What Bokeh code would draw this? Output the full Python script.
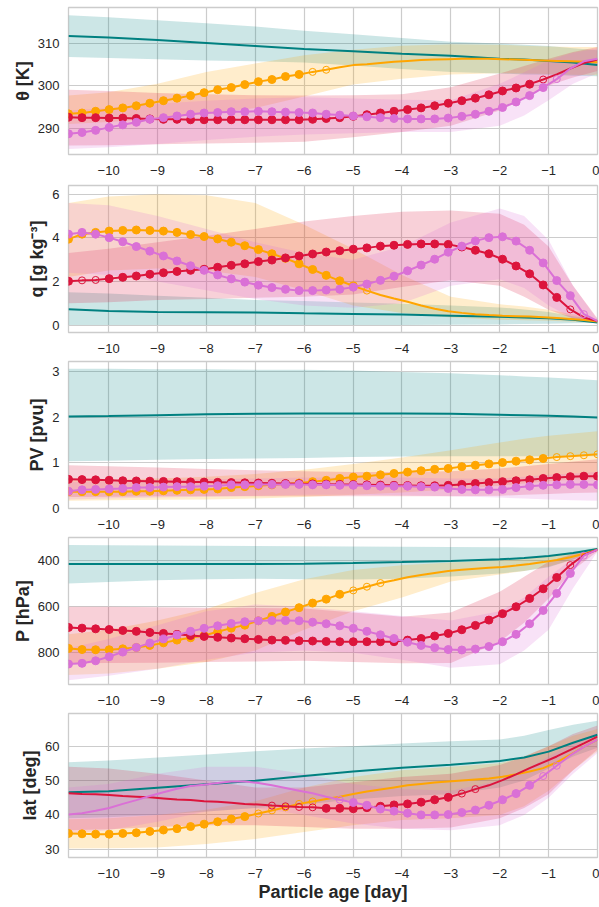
from bokeh.plotting import figure
from bokeh.models import Range1d, FixedTicker, CustomJSTickFormatter
from bokeh.layouts import column
from bokeh.embed import file_html
from bokeh.resources import INLINE

# ---------------- data ----------------
AGE = [-10.82, -10.543, -10.265, -9.988, -9.71, -9.433, -9.156, -8.878, -8.601, -8.323,
       -8.046, -7.769, -7.491, -7.214, -6.936, -6.659, -6.382, -6.104, -5.827, -5.549,
       -5.272, -4.995, -4.717, -4.44, -4.162, -3.885, -3.608, -3.33, -3.053, -2.775,
       -2.498, -2.221, -1.943, -1.666, -1.388, -1.111, -0.834, -0.556, -0.279, 0.0]
BAND_AGE = [-10.82, -10, -9, -8, -7, -6, -5, -4, -3, -2, -1.5, -1, -0.5, 0]
DAY_TICKS = [-10, -9, -8, -7, -6, -5, -4, -3, -2, -1, 0]

# theta [K]
TH_TEAL = [311.8, 311.4, 310.8, 310.1, 309.4, 308.7, 308.2, 307.6, 307.1, 306.4, 306.2, 305.9, 305.5, 304.9]
TH_ORANGE = [293.4, 293.6, 294.0, 294.4, 294.8, 295.3, 295.9, 296.5, 297.1, 297.7, 298.4, 299.1, 299.6, 300.3,
             301.0, 301.5, 302.2, 302.7, 303.3, 303.8, 304.4, 304.9, 305.1, 305.4, 305.7, 305.9, 306.1, 306.2,
             306.3, 306.4, 306.4, 306.4, 306.3, 306.2, 306.1, 306.0, 305.9, 305.8, 305.7, 305.6]
TH_RED = [292.6, 292.5, 292.5, 292.4, 292.4, 292.3, 292.2, 292.1, 292.1, 292.0, 292.0, 292.0, 292.0, 292.0,
          292.0, 292.0, 292.0, 292.0, 292.1, 292.3, 292.5, 292.8, 293.2, 293.6, 294.0, 294.4, 294.8, 295.3,
          295.9, 296.5, 297.1, 297.9, 298.8, 299.5, 300.4, 301.5, 302.7, 304.1, 305.4, 306.2]
TH_ORCHID = [288.7, 289.0, 289.5, 290.2, 290.8, 291.4, 292.1, 292.5, 292.9, 293.3, 293.6, 293.7, 293.9, 293.9,
             294.0, 293.9, 293.8, 293.7, 293.6, 293.3, 293.1, 292.9, 292.7, 292.5, 292.3, 292.2, 292.2, 292.2,
             292.4, 292.8, 293.3, 294.0, 294.9, 296.2, 297.7, 299.6, 301.6, 304.1, 305.8, 306.4]
TH_TEAL_LO = [306.8, 306.6, 306.3, 306.0, 305.8, 305.5, 304.8, 304.0, 303.3, 302.9, 302.7, 302.6, 302.4, 302.3]
TH_TEAL_HI = [316.7, 316.2, 315.5, 314.8, 314.0, 313.0, 312.2, 311.3, 310.4, 310.0, 309.7, 309.4, 308.9, 308.4]
TH_ORANGE_LO = [291.0, 291.5, 292.3, 293.3, 294.8, 297.5, 300.3, 301.7, 302.7, 303.0, 302.9, 302.8, 302.6, 302.5]
TH_ORANGE_HI = [297.7, 298.5, 300.5, 303.3, 305.3, 307.2, 308.5, 309.5, 309.8, 309.7, 309.5, 309.3, 309.2, 309.2]
TH_RED_LO = [285.9, 286.0, 286.2, 286.4, 286.6, 286.8, 287.9, 289.1, 290.6, 294.2, 297.0, 300.1, 302.0, 303.5]
TH_RED_HI = [299.1, 298.8, 298.3, 298.0, 297.8, 297.7, 297.8, 298.0, 299.7, 302.9, 304.7, 306.4, 308.0, 309.2]
TH_ORCHID_LO = [285.1, 285.5, 286.3, 287.2, 288.0, 288.5, 288.8, 289.1, 289.1, 290.6, 293.0, 296.6, 300.5, 303.0]
TH_ORCHID_HI = [294.2, 294.8, 295.8, 296.5, 297.0, 297.3, 297.0, 296.7, 296.6, 300.5, 303.2, 306.0, 307.8, 308.8]

# q [g kg-3]
Q_TEAL = [0.73, 0.65, 0.60, 0.59, 0.58, 0.54, 0.51, 0.48, 0.43, 0.38, 0.35, 0.31, 0.24, 0.12]
Q_ORANGE = [3.94, 4.17, 4.25, 4.31, 4.34, 4.36, 4.34, 4.31, 4.25, 4.15, 4.06, 3.95, 3.80, 3.64,
            3.46, 3.27, 3.06, 2.81, 2.55, 2.28, 2.03, 1.80, 1.58, 1.38, 1.22, 1.07, 0.90, 0.75,
            0.63, 0.56, 0.50, 0.46, 0.43, 0.41, 0.39, 0.36, 0.33, 0.28, 0.23, 0.16]
Q_RED = [2.01, 2.05, 2.07, 2.13, 2.19, 2.25, 2.33, 2.40, 2.46, 2.51, 2.56, 2.65, 2.74, 2.81,
         2.91, 2.98, 3.08, 3.17, 3.26, 3.35, 3.41, 3.48, 3.54, 3.62, 3.66, 3.70, 3.72, 3.72,
         3.70, 3.58, 3.43, 3.27, 3.02, 2.71, 2.35, 1.84, 1.27, 0.72, 0.35, 0.18]
Q_ORCHID = [4.17, 4.25, 4.17, 4.01, 3.82, 3.60, 3.39, 3.17, 2.94, 2.72, 2.51, 2.30, 2.12, 1.97,
            1.83, 1.72, 1.64, 1.58, 1.58, 1.61, 1.64, 1.74, 1.88, 2.05, 2.24, 2.49, 2.75, 3.02,
            3.34, 3.62, 3.86, 4.01, 4.05, 3.85, 3.43, 2.85, 2.04, 1.35, 0.50, 0.18]
Q_TEAL_LO = [0.00, 0.00, 0.00, 0.00, 0.00, 0.00, 0.00, 0.00, 0.02, 0.03, 0.05, 0.06, 0.08, 0.10]
Q_TEAL_HI = [1.50, 1.45, 1.35, 1.25, 1.15, 1.10, 1.04, 0.98, 0.90, 0.81, 0.72, 0.60, 0.40, 0.25]
Q_ORANGE_LO = [2.20, 2.50, 2.60, 2.50, 2.20, 1.60, 0.90, 0.55, 0.35, 0.25, 0.22, 0.20, 0.15, 0.10]
Q_ORANGE_HI = [5.60, 5.90, 6.00, 5.95, 5.60, 4.60, 3.50, 2.30, 1.30, 0.95, 0.85, 0.70, 0.50, 0.25]
Q_RED_LO = [1.00, 1.05, 1.15, 1.20, 1.25, 1.30, 1.40, 1.75, 2.05, 1.80, 1.30, 0.70, 0.30, 0.15]
Q_RED_HI = [3.30, 3.50, 3.80, 4.10, 4.40, 4.75, 5.00, 5.20, 5.25, 5.10, 4.60, 3.60, 1.80, 0.30]
Q_ORCHID_LO = [2.40, 2.30, 2.00, 1.60, 1.20, 0.90, 0.80, 1.00, 1.80, 2.10, 1.70, 0.90, 0.30, 0.15]
Q_ORCHID_HI = [5.60, 5.50, 5.00, 4.40, 3.80, 3.30, 3.00, 3.60, 4.70, 5.35, 5.00, 3.90, 1.80, 0.25]

# PV [pvu]
PV_TEAL = [2.02, 2.03, 2.05, 2.07, 2.08, 2.09, 2.09, 2.09, 2.08, 2.06, 2.05, 2.04, 2.02, 2.00]
PV_ORANGE = [0.37, 0.37, 0.37, 0.37, 0.37, 0.38, 0.38, 0.39, 0.40, 0.41, 0.42, 0.43, 0.46, 0.48,
             0.50, 0.52, 0.54, 0.56, 0.59, 0.62, 0.66, 0.69, 0.71, 0.74, 0.77, 0.80, 0.83, 0.86,
             0.88, 0.92, 0.95, 0.98, 1.01, 1.04, 1.07, 1.10, 1.13, 1.15, 1.17, 1.19]
PV_RED = [0.64, 0.635, 0.63, 0.62, 0.61, 0.605, 0.60, 0.595, 0.59, 0.585, 0.58, 0.575, 0.57, 0.565,
          0.56, 0.555, 0.55, 0.545, 0.54, 0.535, 0.53, 0.525, 0.52, 0.515, 0.51, 0.505, 0.50, 0.50,
          0.51, 0.53, 0.55, 0.57, 0.59, 0.61, 0.63, 0.66, 0.68, 0.70, 0.71, 0.71]
PV_ORCHID = [0.38, 0.41, 0.42, 0.43, 0.44, 0.46, 0.46, 0.47, 0.48, 0.48, 0.49, 0.50, 0.52, 0.52,
             0.53, 0.53, 0.53, 0.53, 0.52, 0.52, 0.51, 0.51, 0.50, 0.49, 0.49, 0.49, 0.48, 0.47,
             0.44, 0.42, 0.41, 0.41, 0.42, 0.46, 0.49, 0.51, 0.52, 0.53, 0.53, 0.52]
PV_TEAL_LO = [1.04, 1.05, 1.07, 1.09, 1.10, 1.11, 1.13, 1.14, 1.15, 1.15, 1.15, 1.15, 1.15, 1.15]
PV_TEAL_HI = [3.07, 3.07, 3.06, 3.06, 3.05, 3.05, 3.03, 3.00, 2.97, 2.93, 2.90, 2.88, 2.85, 2.82]
PV_ORANGE_LO = [0.17, 0.18, 0.19, 0.20, 0.22, 0.25, 0.30, 0.35, 0.42, 0.50, 0.55, 0.60, 0.63, 0.65]
PV_ORANGE_HI = [0.62, 0.63, 0.66, 0.70, 0.76, 0.85, 0.98, 1.12, 1.28, 1.45, 1.53, 1.60, 1.65, 1.70]
PV_RED_LO = [0.25, 0.26, 0.27, 0.27, 0.27, 0.27, 0.27, 0.27, 0.27, 0.28, 0.30, 0.32, 0.34, 0.35]
PV_RED_HI = [0.95, 0.93, 0.90, 0.87, 0.84, 0.82, 0.80, 0.80, 0.82, 0.88, 0.93, 0.98, 1.03, 1.08]
PV_ORCHID_LO = [0.20, 0.22, 0.24, 0.26, 0.28, 0.30, 0.30, 0.29, 0.27, 0.24, 0.22, 0.20, 0.18, 0.17]
PV_ORCHID_HI = [0.58, 0.60, 0.62, 0.64, 0.66, 0.68, 0.68, 0.68, 0.66, 0.66, 0.70, 0.74, 0.77, 0.80]

# P [hPa]
P_TEAL = [414, 414, 414, 414, 414, 413, 410, 406, 401, 394, 388, 379, 366, 349]
P_ORANGE = [781, 786, 787, 787, 783, 777, 768, 757, 745, 735, 725, 709, 693, 680,
            661, 642, 623, 604, 584, 567, 546, 529, 513, 497, 485, 472, 462, 453,
            445, 439, 435, 431, 427, 421, 414, 406, 397, 385, 370, 352]
P_RED = [690, 693, 696, 699, 703, 707, 712, 716, 720, 725, 729, 733, 736, 739,
         742, 745, 746, 748, 749, 751, 752, 752, 752, 752, 752, 745, 738, 727,
         716, 700, 681, 658, 630, 600, 564, 522, 473, 419, 375, 352]
P_ORCHID = [849, 846, 835, 817, 797, 777, 758, 740, 723, 707, 694, 683, 673, 665,
            661, 660, 660, 661, 667, 674, 683, 694, 707, 722, 738, 754, 768, 778,
            786, 788, 784, 773, 752, 720, 674, 616, 542, 455, 378, 352]
P_TEAL_LO = [499, 492, 485, 480, 478, 480, 482, 478, 468, 455, 445, 428, 395, 355]
P_TEAL_HI = [332, 333, 334, 335, 336, 337, 338, 339, 340, 341, 342, 342, 343, 343]
P_ORANGE_LO = [897, 890, 870, 840, 790, 700, 620, 560, 490, 460, 445, 425, 395, 355]
P_ORANGE_HI = [720, 700, 660, 610, 540, 480, 440, 420, 408, 398, 390, 378, 362, 345]
P_RED_LO = [846, 845, 843, 840, 838, 835, 840, 846, 845, 752, 670, 564, 440, 360]
P_RED_HI = [600, 600, 602, 604, 606, 608, 625, 643, 625, 535, 470, 404, 370, 348]
P_ORCHID_LO = [920, 900, 870, 830, 800, 790, 800, 830, 865, 850, 790, 700, 520, 360]
P_ORCHID_HI = [780, 740, 680, 620, 590, 600, 620, 640, 660, 620, 560, 470, 390, 348]

# lat [deg]
L_TEAL = [46.6, 46.9, 47.9, 48.9, 49.9, 51.3, 52.6, 53.7, 54.6, 55.7, 56.7, 58.4, 61.0, 63.3]
L_ORANGE = [34.6, 34.5, 34.4, 34.4, 34.6, 34.8, 35.2, 35.6, 36.0, 36.6, 37.3, 38.0, 38.8, 39.5,
            40.4, 41.3, 42.2, 43.2, 43.9, 44.6, 45.3, 46.1, 46.8, 47.4, 48.0, 48.6, 49.0, 49.4,
            49.7, 50.0, 50.3, 50.6, 51.1, 51.8, 52.6, 53.6, 55.3, 57.5, 59.8, 61.9]
L_RED = [46.3, 46.1, 46.0, 45.8, 45.5, 45.3, 45.1, 44.8, 44.5, 44.3, 44.0, 43.8, 43.5, 43.2,
         43.0, 42.7, 42.5, 42.3, 42.2, 41.9, 41.9, 41.8, 42.1, 42.5, 42.9, 43.2, 43.7, 44.4,
         45.1, 46.2, 47.5, 48.6, 50.1, 51.8, 53.6, 55.3, 57.0, 58.9, 60.8, 62.8]
L_ORCHID = [40.1, 40.5, 41.2, 42.0, 43.2, 44.3, 45.5, 46.6, 47.6, 48.4, 48.8, 49.3, 49.7, 49.7,
            49.3, 48.6, 47.8, 47.0, 46.3, 45.3, 44.4, 43.6, 42.8, 41.7, 41.1, 40.5, 40.0, 40.0,
            40.1, 40.7, 41.4, 42.8, 44.4, 46.2, 48.6, 51.3, 54.3, 57.3, 59.8, 61.9]
L_TEAL_LO = [39.0, 39.3, 40.0, 41.0, 42.0, 43.0, 44.5, 45.5, 46.0, 48.0, 50.0, 53.5, 57.0, 59.5]
L_TEAL_HI = [55.3, 55.8, 56.7, 57.6, 58.5, 59.3, 60.0, 60.8, 61.4, 61.9, 63.0, 64.7, 66.2, 67.4]
L_ORANGE_LO = [30.2, 30.3, 30.5, 31.5, 33.0, 35.0, 37.0, 38.5, 39.0, 40.0, 42.5, 47.0, 53.0, 58.5]
L_ORANGE_HI = [38.7, 39.0, 40.0, 41.5, 44.0, 48.0, 51.0, 53.0, 54.0, 55.0, 57.0, 60.0, 63.0, 65.0]
L_RED_LO = [35.5, 35.8, 36.5, 37.0, 37.0, 36.5, 36.0, 36.0, 36.3, 39.0, 42.0, 46.0, 53.0, 59.0]
L_RED_HI = [54.0, 53.5, 52.0, 50.0, 48.0, 48.0, 49.5, 51.0, 52.0, 54.5, 57.0, 60.0, 63.5, 66.0]
L_ORCHID_LO = [34.5, 35.5, 38.0, 41.0, 42.0, 40.0, 37.5, 36.0, 35.5, 37.0, 40.0, 45.0, 52.0, 58.0]
L_ORCHID_HI = [48.0, 49.0, 52.0, 54.0, 54.0, 52.0, 49.0, 47.5, 47.0, 50.0, 53.0, 57.0, 61.0, 64.0]

# marker style per point: f = filled circle, o = open circle, - = none
TH_MK = {"orange": "f" * 18 + "o" * 2 + "-" * 20,
         "red": "f" * 35 + "o" + "-" * 4,
         "orchid": "f" * 36 + "o" + "-" * 3}
Q_MK = {"orange": "f" * 22 + "o" + "-" * 17,
        "red": "f" + "oo" + "f" * 34 + "o" + "--",
        "orchid": "f" * 38 + "o" + "-"}
PV_MK = {"orange": "f" * 36 + "o" * 4,
         "red": "f" * 40,
         "orchid": "f" * 40}
P_MK = {"orange": "f" * 21 + "o" * 3 + "-" * 16,
        "red": "f" * 37 + "o" + "--",
        "orchid": "f" * 38 + "o" + "-"}
L_MK = {"orange": "f" * 14 + "o" * 5 + "-" * 21,
        "red": "-" * 15 + "o" * 4 + "f" * 10 + "o" * 2 + "-" * 9,
        "orchid": "-" * 20 + "o" + "f" * 14 + "o" * 2 + "-" * 3}

TEAL = "#008080"
ORANGE = "#ffa500"
CRIMSON = "#dc143c"
ORCHID = "#da70d6"

PANELS = [
    dict(label="θ [K]", yr=(283.8, 318.5), yticks=[290, 300, 310],
         teal=TH_TEAL, bands=[(TEAL, TH_TEAL_LO, TH_TEAL_HI), (ORANGE, TH_ORANGE_LO, TH_ORANGE_HI),
                              (CRIMSON, TH_RED_LO, TH_RED_HI), (ORCHID, TH_ORCHID_LO, TH_ORCHID_HI)],
         series=[(ORANGE, TH_ORANGE, TH_MK["orange"]), (CRIMSON, TH_RED, TH_MK["red"]),
                 (ORCHID, TH_ORCHID, TH_MK["orchid"])]),
    dict(label="q [g kg⁻³]", yr=(-0.34, 6.4), yticks=[0, 2, 4, 6],
         teal=Q_TEAL, bands=[(TEAL, Q_TEAL_LO, Q_TEAL_HI), (ORANGE, Q_ORANGE_LO, Q_ORANGE_HI),
                             (CRIMSON, Q_RED_LO, Q_RED_HI), (ORCHID, Q_ORCHID_LO, Q_ORCHID_HI)],
         series=[(ORANGE, Q_ORANGE, Q_MK["orange"]), (CRIMSON, Q_RED, Q_MK["red"]),
                 (ORCHID, Q_ORCHID, Q_MK["orchid"])]),
    dict(label="PV [pvu]", yr=(0.0, 3.23), yticks=[0, 1, 2, 3],
         teal=PV_TEAL, bands=[(TEAL, PV_TEAL_LO, PV_TEAL_HI), (ORANGE, PV_ORANGE_LO, PV_ORANGE_HI),
                              (CRIMSON, PV_RED_LO, PV_RED_HI), (ORCHID, PV_ORCHID_LO, PV_ORCHID_HI)],
         series=[(ORANGE, PV_ORANGE, PV_MK["orange"]), (CRIMSON, PV_RED, PV_MK["red"]),
                 (ORCHID, PV_ORCHID, PV_MK["orchid"])]),
    dict(label="P [hPa]", yr=(938, 299), yticks=[400, 600, 800],
         teal=P_TEAL, bands=[(TEAL, P_TEAL_LO, P_TEAL_HI), (ORANGE, P_ORANGE_LO, P_ORANGE_HI),
                             (CRIMSON, P_RED_LO, P_RED_HI), (ORCHID, P_ORCHID_LO, P_ORCHID_HI)],
         series=[(ORANGE, P_ORANGE, P_MK["orange"]), (CRIMSON, P_RED, P_MK["red"]),
                 (ORCHID, P_ORCHID, P_MK["orchid"])]),
    dict(label="lat [deg]", yr=(27.6, 69.5), yticks=[30, 40, 50, 60],
         teal=L_TEAL, bands=[(TEAL, L_TEAL_LO, L_TEAL_HI), (ORANGE, L_ORANGE_LO, L_ORANGE_HI),
                             (CRIMSON, L_RED_LO, L_RED_HI), (ORCHID, L_ORCHID_LO, L_ORCHID_HI)],
         series=[(ORANGE, L_ORANGE, L_MK["orange"]), (CRIMSON, L_RED, L_MK["red"]),
                 (ORCHID, L_ORCHID, L_MK["orchid"])]),
]

FONT = "Liberation Sans"
TEXT_COLOR = "#262626"
GRID_COLOR = "#cccccc"
PLOT_H = 147


def make_panel(cfg, idx, n):
    first = idx == 0
    last = idx == n - 1
    top = 7 if first else 1
    bottom = 44 if last else (30 if first else 28)
    p = figure(width=599, height=PLOT_H + top + bottom,
               x_range=Range1d(-10.82, 0.0), y_range=Range1d(*cfg["yr"]),
               output_backend="svg", toolbar_location=None,
               min_border_left=68, min_border_right=2, min_border_top=top,
               min_border_bottom=bottom)
    p.background_fill_color = "white"
    p.border_fill_color = "white"
    p.outline_line_color = GRID_COLOR
    p.outline_line_width = 1.3

    for color, lo, hi in cfg["bands"]:
        p.varea(x=BAND_AGE, y1=lo, y2=hi, fill_color=color, fill_alpha=0.2)

    p.line(BAND_AGE, cfg["teal"], line_color=TEAL, line_width=2)
    for color, mean, mk in cfg["series"]:
        p.line(AGE, mean, line_color=color, line_width=2)
        fx = [a for a, m in zip(AGE, mk) if m == "f"]
        fy = [v for v, m in zip(mean, mk) if m == "f"]
        ox = [a for a, m in zip(AGE, mk) if m == "o"]
        oy = [v for v, m in zip(mean, mk) if m == "o"]
        p.scatter(fx, fy, size=8, fill_color=color, line_color=color, line_width=1)
        p.scatter(ox, oy, size=7, fill_color=None, line_color=color, line_width=1)

    p.xaxis.ticker = FixedTicker(ticks=DAY_TICKS)
    p.xaxis.formatter = CustomJSTickFormatter(
        code="return (tick < 0 ? '\u2212' : '') + Math.abs(tick).toString();")
    p.yaxis.ticker = FixedTicker(ticks=cfg["yticks"])

    for ax in (p.xaxis[0], p.yaxis[0]):
        ax.axis_line_color = None
        ax.major_tick_line_color = None
        ax.minor_tick_line_color = None
        ax.major_tick_out = 0
        ax.major_tick_in = 0
        ax.minor_tick_out = 0
        ax.major_label_text_font = FONT
        ax.major_label_text_font_size = "13px"
        ax.major_label_text_color = TEXT_COLOR
        ax.axis_label_text_font = FONT
        ax.axis_label_text_font_size = "18px"
        ax.axis_label_text_font_style = "bold"
        ax.axis_label_text_color = TEXT_COLOR
    p.xaxis.major_label_standoff = 11
    p.yaxis.major_label_standoff = 9
    p.yaxis.axis_label = cfg["label"]
    p.yaxis.axis_label_standoff = 2
    if last:
        p.xaxis.axis_label = "Particle age [day]"
        p.xaxis.axis_label_standoff = 1

    p.grid.grid_line_color = GRID_COLOR
    p.grid.grid_line_width = 1.2
    return p


figs = [make_panel(c, i, len(PANELS)) for i, c in enumerate(PANELS)]
layout = column(*figs, spacing=0)

open("out.html", "w").write(file_html(layout, INLINE))
